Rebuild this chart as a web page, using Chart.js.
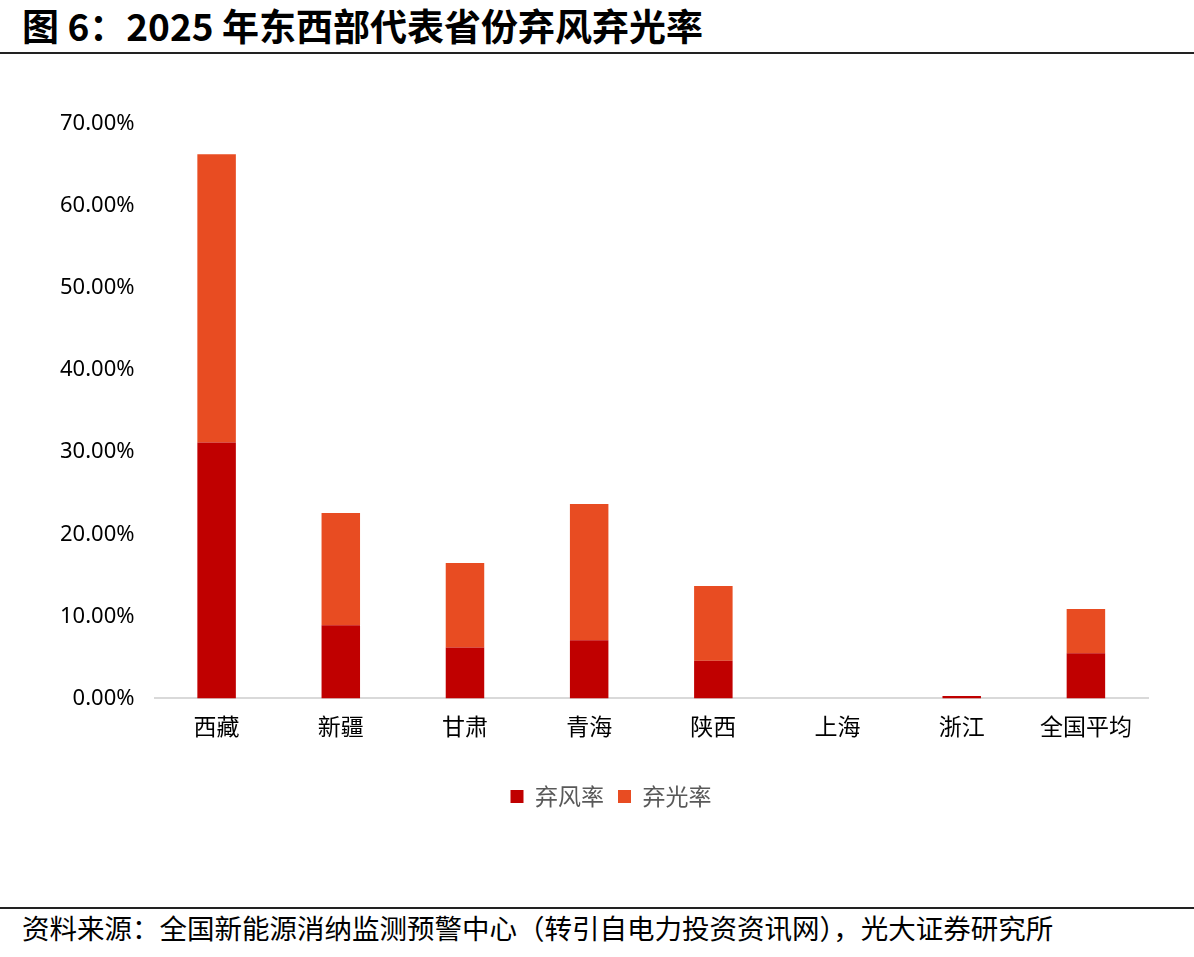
<!DOCTYPE html>
<html>
<head>
<meta charset="utf-8">
<script src="https://cdn.jsdelivr.net/npm/chart.js@4/dist/chart.umd.min.js"></script>
<style>
  html, body { margin: 0; padding: 0; background: #fff; }
  body { width: 1194px; height: 957px; position: relative; overflow: hidden; font-family: "Noto Sans CJK SC", "Noto Sans", sans-serif; }
  #title { position: absolute; left: 22px; top: 3px; font-size: 37px; font-weight: bold; color: #000; white-space: nowrap; line-height: 44px; }
  #topline { position: absolute; left: 0; top: 52px; width: 1194px; height: 2px; background: #222; }
  #botline { position: absolute; left: 0; top: 907px; width: 1194px; height: 2px; background: #222; }
  #footer { position: absolute; left: 22px; top: 910px; font-size: 27.5px; color: #000; white-space: nowrap; line-height: 34px; }
  #wrap { position: absolute; left: 0; top: 60px; width: 1194px; height: 840px; }
</style>
</head>
<body>
<div id="title">图 6：2025 年东西部代表省份弃风弃光率</div>
<div id="topline"></div>
<div id="wrap"><canvas id="c"></canvas></div>
<div id="botline"></div>
<div id="footer">资料来源：全国新能源消纳监测预警中心（转引自电力投资资讯网），光大证券研究所</div>
<script>
const categories = ["西藏", "新疆", "甘肃", "青海", "陕西", "上海", "浙江", "全国平均"];
const windRate = [31.2, 8.9, 6.2, 7.1, 4.6, 0.0, 0.3, 5.5];
const solarRate = [35.1, 13.7, 10.3, 16.6, 9.1, 0.0, 0.0, 5.4];
const seriesNames = ["弃风率", "弃光率"];
const yTicks = [0, 10, 20, 30, 40, 50, 60, 70];

const legendShift = {
  id: 'legendShift',
  afterLayout(chart) {
    if (chart.legend) { chart.legend.left += 17; chart.legend.right += 17; }
  }
};

new Chart(document.getElementById('c'), {
  type: 'bar',
  data: {
    labels: categories,
    datasets: [
      { label: seriesNames[0], data: windRate, backgroundColor: '#C00000', borderWidth: 0, categoryPercentage: 1, barPercentage: 0.31 },
      { label: seriesNames[1], data: solarRate, backgroundColor: '#E84C22', borderWidth: 0, categoryPercentage: 1, barPercentage: 0.31 }
    ]
  },
  plugins: [legendShift],
  options: {
    responsive: true,
    maintainAspectRatio: false,
    animation: false,
    layout: { padding: { top: 64, right: 46, bottom: 82, left: 40 } },
    plugins: {
      legend: {
        position: 'bottom',
        labels: { boxWidth: 13, boxHeight: 13, color: '#595959', font: { size: 23, family: '"Noto Sans CJK SC"' }, padding: 14 }
      },
      tooltip: { enabled: false }
    },
    scales: {
      x: {
        stacked: true,
        grid: { display: false, drawTicks: false },
        border: { display: true, color: '#D9D9D9', width: 2 },
        ticks: { color: '#000', font: { size: 23, family: '"Noto Sans CJK SC"' }, padding: 14, maxRotation: 0 },
        afterFit: (s) => { s.height += 17; }
      },
      y: {
        stacked: true,
        min: 0, max: 70,
        afterBuildTicks: (s) => { s.ticks = yTicks.map(v => ({ value: v })); },
        grid: { display: false, drawTicks: false },
        border: { display: false },
        ticks: { color: '#000', font: { size: 22, family: '"Noto Sans", "Noto Sans CJK SC"' }, padding: 20, callback: v => v.toFixed(2) + '%' }
      }
    }
  }
});
</script>
</body>
</html>
